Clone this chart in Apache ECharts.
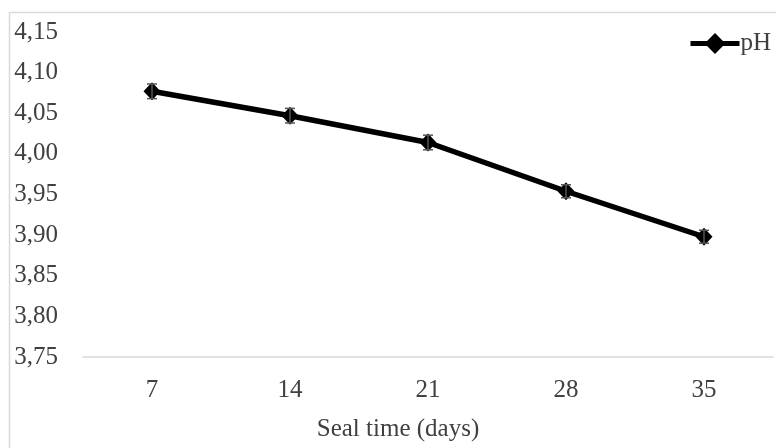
<!DOCTYPE html>
<html>
<head>
<meta charset="utf-8">
<script src="https://cdn.jsdelivr.net/npm/echarts@6/dist/echarts.min.js"></script>
<style>html,body{margin:0;padding:0;background:#fff}#c{width:776px;height:448px}</style>
</head>
<body>
<div id="c"></div>
<script>
const categories = ['7', '14', '21', '28', '35'];
const phValues = [4.077, 4.047, 4.014, 3.954, 3.898];
const phErrors = [0.009, 0.009, 0.009, 0.008, 0.008];
const yTicks = { min: 3.75, max: 4.15, interval: 0.05 };

const FONT = '"Liberation Serif", "Times New Roman", serif';
const TXT = '#404040';

const chart = echarts.init(document.getElementById('c'), null, { renderer: 'canvas' });
chart.setOption({
  animation: false,
  backgroundColor: '#fff',
  grid: { left: 83, right: 3, top: 32, bottom: 91 },
  legend: {
    data: ['pH'],
    left: 688, top: 31, padding: 0,
    itemWidth: 49, itemHeight: 26, itemGap: 0,
    lineStyle: { width: 5, color: '#000' },
    itemStyle: { color: '#000' },
    textStyle: { fontFamily: FONT, fontSize: 25, color: TXT, padding: [0, 0, 0, -4] }
  },
  xAxis: {
    type: 'category', data: categories, boundaryGap: true,
    axisLine: { lineStyle: { color: '#d9d9d9', width: 1.5 } },
    axisTick: { show: false },
    axisLabel: { fontFamily: FONT, fontSize: 25, color: TXT, margin: 21 }
  },
  yAxis: {
    type: 'value', min: yTicks.min, max: yTicks.max, interval: yTicks.interval,
    axisLine: { show: false }, axisTick: { show: false }, splitLine: { show: false },
    axisLabel: {
      fontFamily: FONT, fontSize: 25, color: TXT, margin: 25,
      formatter: v => v.toFixed(2).replace('.', ',')
    }
  },
  graphic: [
    { type: 'rect', shape: { x: 9.5, y: 12.5, width: 900, height: 600 },
      style: { fill: 'none', stroke: '#d9d9d9', lineWidth: 1.5 }, silent: true, z: -1 },
    { type: 'text', x: 398, y: 429,
      style: { text: 'Seal time (days)', font: '25px ' + FONT, fill: TXT,
               textAlign: 'center', textVerticalAlign: 'middle' } }
  ],
  series: [
    {
      name: 'pH', type: 'line', data: phValues,
      lineStyle: { color: '#000', width: 5.5 },
      itemStyle: { color: '#000' },
      symbol: 'diamond', symbolSize: [17, 18], showSymbol: true, z: 3
    },
    {
      name: 'err', type: 'custom', z: 4,
      data: phValues.map((v, i) => [i, v - phErrors[i], v + phErrors[i]]),
      renderItem: function (params, api) {
        const lo = api.coord([api.value(0), api.value(1)]);
        const hi = api.coord([api.value(0), api.value(2)]);
        const hw = 5;
        const st = { stroke: '#555', lineWidth: 1.5 };
        return { type: 'group', children: [
          { type: 'line', shape: { x1: lo[0], y1: lo[1], x2: hi[0], y2: hi[1] }, style: st },
          { type: 'line', shape: { x1: lo[0] - hw, y1: lo[1], x2: lo[0] + hw, y2: lo[1] }, style: st },
          { type: 'line', shape: { x1: hi[0] - hw, y1: hi[1], x2: hi[0] + hw, y2: hi[1] }, style: st }
        ]};
      }
    }
  ]
});
</script>
</body>
</html>
